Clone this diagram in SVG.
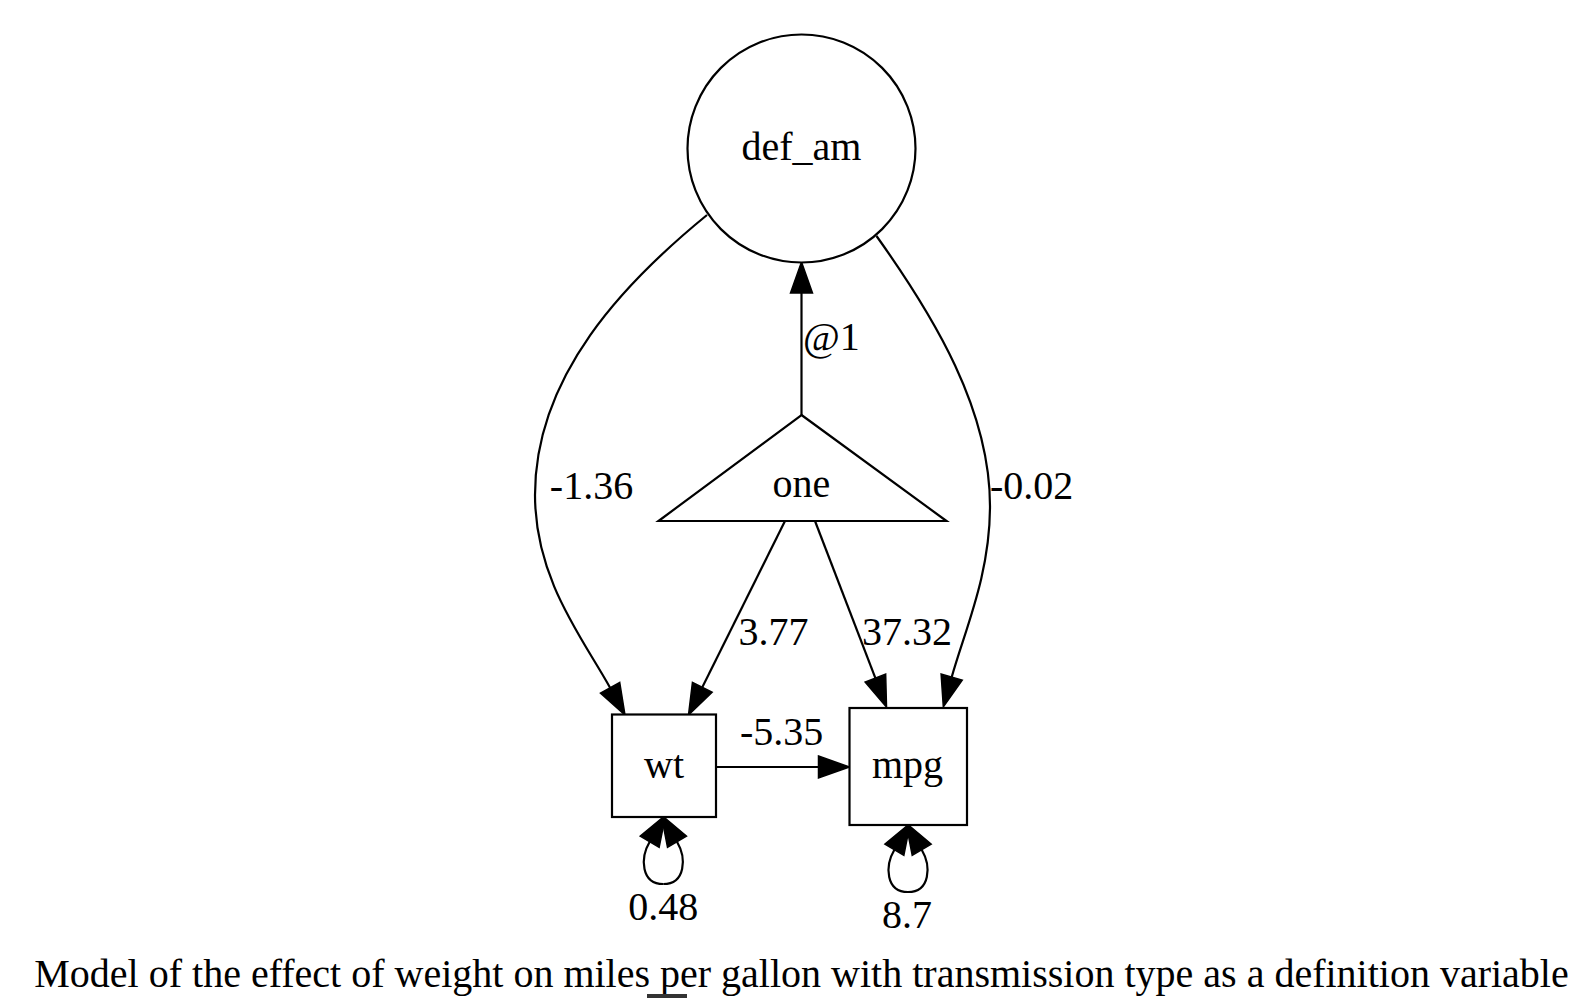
<svg xmlns="http://www.w3.org/2000/svg" width="1588" height="998" viewBox="0 0 1588 998">
<style>
  text { font-family: "Liberation Serif", "Times New Roman", serif; font-size: 40px; fill: #000; }
  .node { fill: #fff; stroke: #000; stroke-width: 2.2; }
  .edge { fill: none; stroke: #000; stroke-width: 2.2; }
  .mid { text-anchor: middle; }
</style>
<defs>
  <marker id="arrow" markerUnits="userSpaceOnUse" viewBox="0 0 31 22" markerWidth="31" markerHeight="22" refX="0" refY="11" orient="auto" overflow="visible">
    <polygon points="0,0 31,11 0,22" fill="#000" stroke="#000" stroke-width="1.5"/>
  </marker>
</defs>
<rect x="0" y="0" width="1588" height="998" fill="#fff"/>

<g id="connectors">
  <g id="edge-one-def_am">
    <path class="edge" d="M801.5,415 L801.5,293" marker-end="url(#arrow)"/>
    <text x="803" y="350">@1</text>
  </g>
  <g id="edge-one-wt">
    <path class="edge" d="M785,521 L702.3,687.3" marker-end="url(#arrow)"/>
    <text class="mid" x="773.5" y="645">3.77</text>
  </g>
  <g id="edge-one-mpg">
    <path class="edge" d="M815,521 L875.4,678.1" marker-end="url(#arrow)"/>
    <text class="mid" x="907" y="645">37.32</text>
  </g>
  <g id="edge-wt-mpg">
    <path class="edge" d="M716,767 L818.5,767" marker-end="url(#arrow)"/>
    <text class="mid" x="781.7" y="745">-5.35</text>
  </g>
  <g id="edge-def_am-wt">
    <path class="edge" d="M707,215 C625,282 535,375 535,495 C535,580 583.7,639.6 610.1,687.8" marker-end="url(#arrow)"/>
    <text class="mid" x="591.5" y="499">-1.36</text>
  </g>
  <g id="edge-def_am-mpg">
    <path class="edge" d="M876.5,236 C935,318 990,410 990,506 C990,575 965.2,629 951.7,677.1" marker-end="url(#arrow)"/>
    <text x="990" y="499">-0.02</text>
  </g>
  <g id="edge-wt-wt">
    <path class="edge" d="M663.3,884 C641,884 640,858 649.7,841.7" marker-end="url(#arrow)"/>
    <path class="edge" d="M663.3,884 C685.6,884 686.6,858 677,841.7" marker-end="url(#arrow)"/>
    <text class="mid" x="663.3" y="920">0.48</text>
  </g>
  <g id="edge-mpg-mpg">
    <path class="edge" d="M908,892 C885.7,892 884.7,866 894.4,849.7" marker-end="url(#arrow)"/>
    <path class="edge" d="M908,892 C930.3,892 931.3,866 921.7,849.7" marker-end="url(#arrow)"/>
    <text class="mid" x="907" y="928">8.7</text>
  </g>
</g>

<g id="node-def_am">
  <circle class="node" cx="801.5" cy="148.5" r="114"/>
  <text class="mid" x="801.5" y="160">def_am</text>
</g>
<g id="node-one">
  <polygon class="node" points="801.5,415 946.5,521 658.5,521"/>
  <text class="mid" x="801.5" y="497">one</text>
</g>
<g id="node-wt">
  <rect class="node" x="612" y="714.5" width="104" height="102.5"/>
  <text class="mid" x="664" y="778">wt</text>
</g>
<g id="node-mpg">
  <rect class="node" x="849.5" y="708" width="117.5" height="117"/>
  <text class="mid" x="907.5" y="778">mpg</text>
</g>

<g id="caption">
  <text class="mid" x="801.5" y="987">Model of the effect of weight on miles per gallon with transmission type as a definition variable</text>
  <rect x="647" y="994" width="40" height="4" fill="#333"/>
</g>
</svg>
